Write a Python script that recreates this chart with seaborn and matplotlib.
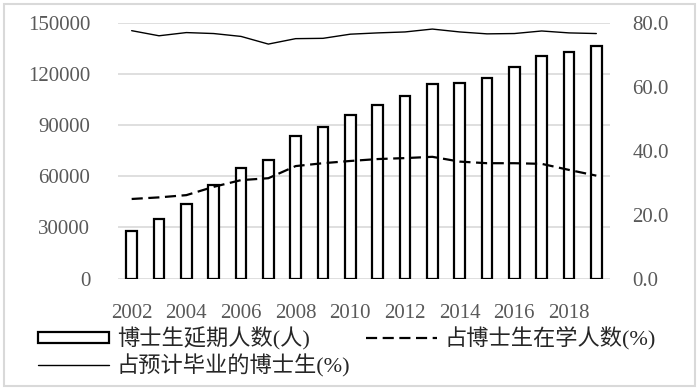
import matplotlib
matplotlib.use('Agg')
import matplotlib.pyplot as plt
import numpy as np
import seaborn as sns
import pandas as pd
from matplotlib.patches import Rectangle

years = [str(y) for y in range(2002, 2020)]
delayed = [27700, 35000, 43900, 55000, 64800, 69700, 83800, 89000, 96100,
           102000, 107400, 114400, 115000, 118000, 124000, 130700, 132800, 136700]
pct_enrolled = [24.9, 25.4, 26.1, 28.7, 30.8, 31.4, 35.2, 36.1, 36.8,
                37.4, 37.7, 38.1, 36.6, 36.1, 36.1, 35.9, 34.0, 32.2]
pct_expected = [77.6, 76.0, 77.0, 76.7, 75.8, 73.4, 75.1, 75.2, 76.5,
                76.9, 77.2, 78.1, 77.2, 76.6, 76.7, 77.5, 76.9, 76.7]

bar_label = '博士生延期人数(人)'
dash_label = '占博士生在学人数(%)'
solid_label = '占预计毕业的博士生(%)'

sns.set_style('white')
plt.rcParams['font.family'] = ['Liberation Serif', 'Noto Sans CJK SC', 'DejaVu Sans']

df = pd.DataFrame({'year': years, 'delayed': delayed,
                   'enrolled': pct_enrolled, 'expected': pct_expected})
df['pos'] = np.arange(len(df))

fig = plt.figure(figsize=(7, 3.9), dpi=100)
ax = fig.add_axes([118/700, 1 - 278.5/390, 492/700, 255.5/390])
ax2 = ax.twinx()

sns.barplot(data=df, x='year', y='delayed', ax=ax, color='white',
            edgecolor='black', linewidth=1.6, width=0.4, label=bar_label)
sns.lineplot(data=df, x='pos', y='enrolled', ax=ax2, color='black',
             linewidth=1.6, dashes=False, label=dash_label)
ax2.lines[-1].set_dashes((5, 2.5))
sns.lineplot(data=df, x='pos', y='expected', ax=ax2, color='black',
             linewidth=1.0, label=solid_label)

ax.set_ylim(0, 150000)
ax.set_yticks(np.arange(0, 150001, 30000))
ax2.set_ylim(0, 80)
ax2.set_yticks(np.arange(0, 81, 20))
ax2.set_yticklabels([f'{v:.1f}' for v in np.arange(0, 81, 20)])
ax.set_xlim(-0.5, len(years) - 0.5)
ax.set_xticks(df['pos'][::2])
ax.set_xticklabels(years[::2])

ax.grid(axis='y', color='#d9d9d9', linewidth=1.2)
ax.set_axisbelow(True)
for a in (ax, ax2):
    for s in a.spines.values():
        s.set_visible(False)
    a.set_xlabel('')
    a.set_ylabel('')
ax.tick_params(axis='x', length=0, pad=18, labelsize=15, labelcolor='#595959')
ax.tick_params(axis='y', length=0, pad=20, labelsize=15, labelcolor='#595959')
ax2.tick_params(axis='y', length=0, pad=16, labelsize=15, labelcolor='#595959')

h1, l1 = ax.get_legend_handles_labels()
h2, l2 = ax2.get_legend_handles_labels()
for a in (ax, ax2):
    if a.get_legend():
        a.get_legend().remove()
handles = [h1[0], h2[1], h2[0]]
labels = [l1[0], l2[1], l2[0]]
fig.legend(handles, labels, ncol=2, loc='upper left',
           bbox_to_anchor=(38/700, 1 - 327/390), frameon=False,
           fontsize=16, handlelength=3.2, handleheight=0.45,
           handletextpad=0.35, columnspacing=0.7, labelspacing=0.15,
           borderpad=0, borderaxespad=0, labelcolor='#262626')

fig.patches.append(Rectangle((4/700, 4/390), 691/700, 382/390, transform=fig.transFigure,
                             fill=False, edgecolor='#d9d9d9', linewidth=1.5))

fig.savefig('out.png', dpi=100)
